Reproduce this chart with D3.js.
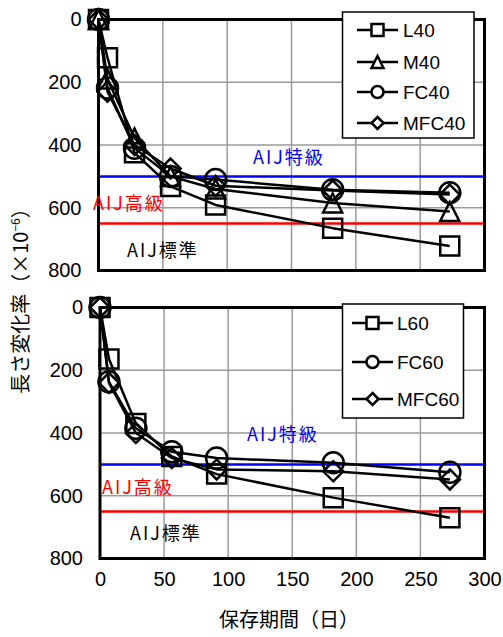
<!DOCTYPE html>
<html>
<head>
<meta charset="utf-8">
<script src="https://cdn.jsdelivr.net/npm/d3@7"></script>
<style>
  html, body { margin: 0; padding: 0; background: #fff; }
  svg { display: block; }
</style>
</head>
<body>
<svg id="chart" width="503" height="637"></svg>
<script>
// Storage age (days) at each measurement
const days = [0, 7, 28, 56, 91, 182, 273];

// Drying shrinkage (x10^-6), 40 series
const seriesNames40 = ["L40", "M40", "FC40", "MFC40"];
const L40   = [0, 122, 425, 532, 591, 665, 722];
const M40   = [0, 190, 378, 500, 540, 585, 612];
const FC40  = [0, 218, 410, 500, 510, 543, 552];
const MFC40 = [0, 230, 400, 475, 530, 545, 558];

// Drying shrinkage (x10^-6), 60 series
const seriesNames60 = ["L60", "FC60", "MFC60"];
const L60   = [0, 164, 370, 475, 531, 606, 670];
const FC60  = [0, 237, 385, 460, 480, 495, 525];
const MFC60 = [0, 240, 400, 480, 516, 522, 548];

// Marker shape for each series
const markerOf = { L40: "square", M40: "triangle", FC40: "circle", MFC40: "diamond",
                   L60: "square", FC60: "circle", MFC60: "diamond" };

// Axis ticks
const xTicks = [0, 50, 100, 150, 200, 250, 300];
const yTicks = [0, 200, 400, 600, 800];

// AIJ reference levels (x10^-6)
const refLevels = [
  { name: "AIJ特級", value: 500, color: "#0000ff" },
  { name: "AIJ高級", value: 650, color: "#ff0000" }
];
const standardLabel = "AIJ標準";

const svg = d3.select("#chart");
const numFont = "'Liberation Sans', Arial, sans-serif";
const jpFont = "'Noto Sans CJK JP', sans-serif";

function markerPath(shape, s) {
  const h = s / 2;
  if (shape === "square") return `M${-h},${-h}H${h}V${h}H${-h}Z`;
  if (shape === "diamond") return `M0,${-h}L${h},0L0,${h}L${-h},0Z`;
  if (shape === "triangle") return `M0,${-h}L${h},${h}L${-h},${h}Z`;
  // circle
  return `M${h},0A${h},${h},0,1,1,${-h},0A${h},${h},0,1,1,${h},0Z`;
}

function drawPanel(opt) {
  const x = d3.scaleLinear().domain([0, 300]).range([opt.left, opt.right]);
  const y = d3.scaleLinear().domain([0, 800]).range([opt.top, opt.bottom]);
  const g = svg.append("g");

  // grid
  g.append("g").selectAll("line.vg").data(xTicks.slice(1, -1)).join("line")
    .attr("x1", d => x(d)).attr("x2", d => x(d))
    .attr("y1", opt.top).attr("y2", opt.bottom)
    .attr("stroke", "#9a9a9a").attr("stroke-width", 1.5);
  g.append("g").selectAll("line.hg").data(yTicks.slice(1, -1)).join("line")
    .attr("x1", opt.left).attr("x2", opt.right)
    .attr("y1", d => y(d)).attr("y2", d => y(d))
    .attr("stroke", "#9a9a9a").attr("stroke-width", 1.5);

  // reference levels
  g.append("g").selectAll("line").data(refLevels).join("line")
    .attr("x1", opt.left).attr("x2", opt.right)
    .attr("y1", d => y(d.value)).attr("y2", d => y(d.value))
    .attr("stroke", d => d.color).attr("stroke-width", 2.5);

  // y axis labels
  const ya = d3.axisLeft(y).tickValues(yTicks).tickSize(0).tickPadding(17);
  const yg = g.append("g").attr("transform", `translate(${opt.left},0)`).call(ya);
  yg.select(".domain").remove();
  yg.selectAll("text").attr("font-family", numFont).attr("font-size", 20).attr("fill", "#000");

  if (opt.xLabels) {
    const xa = d3.axisBottom(x).tickValues(xTicks).tickSize(0).tickPadding(13);
    const xg = g.append("g").attr("transform", `translate(0,${opt.bottom})`).call(xa);
    xg.select(".domain").remove();
    xg.selectAll("text").attr("font-family", numFont).attr("font-size", 20).attr("fill", "#000");
  }

  // frame
  g.append("rect").attr("x", opt.left).attr("y", opt.top)
    .attr("width", opt.right - opt.left).attr("height", opt.bottom - opt.top)
    .attr("fill", "none").attr("stroke", "#000").attr("stroke-width", 3);

  // series
  const line = d3.line().x((d, i) => x(days[i])).y(d => y(d));
  opt.series.forEach(s => {
    g.append("path").datum(s.values).attr("d", line)
      .attr("fill", "none").attr("stroke", "#000").attr("stroke-width", 2.5)
      .attr("stroke-linejoin", "round");
  });
  opt.series.forEach(s => {
    const size = s.shape === "circle" ? 21 : (s.shape === "diamond" ? 20 : 19);
    g.append("g").selectAll("path").data(s.values).join("path")
      .attr("transform", (d, i) => `translate(${x(days[i])},${y(d)})`)
      .attr("d", markerPath(s.shape, size))
      .attr("fill", "none").attr("stroke", "#000").attr("stroke-width", 2.5);
  });

  // level labels
  opt.labels.forEach(l => {
    g.append("text").attr("x", l.x).attr("y", l.y).text(l.text)
      .attr("font-family", jpFont).attr("font-size", 18).attr("letter-spacing", 2)
      .attr("fill", l.color);
  });

  // legend
  const lg = g.append("g");
  lg.append("rect").attr("x", opt.legend.x).attr("y", opt.legend.y)
    .attr("width", opt.legend.w).attr("height", opt.legend.h)
    .attr("fill", "#fff").attr("stroke", "#000").attr("stroke-width", 1.5);
  opt.series.forEach((s, i) => {
    const cy = opt.legend.rows[i];
    const lx = opt.legend.lineX;
    lg.append("line").attr("x1", lx[0]).attr("x2", lx[1]).attr("y1", cy).attr("y2", cy)
      .attr("stroke", "#000").attr("stroke-width", 2.5);
    lg.append("path").attr("transform", `translate(${(lx[0] + lx[1]) / 2},${cy})`)
      .attr("d", markerPath(s.shape, 12))
      .attr("fill", "#fff").attr("stroke", "#000").attr("stroke-width", 2.5);
    lg.append("text").attr("x", opt.legend.textX).attr("y", cy + 7).text(s.name)
      .attr("font-family", numFont).attr("font-size", 19).attr("fill", "#000");
  });
}

const top40 = [L40, M40, FC40, MFC40].map((v, i) => ({ name: seriesNames40[i], values: v, shape: markerOf[seriesNames40[i]] }));
const bot60 = [L60, FC60, MFC60].map((v, i) => ({ name: seriesNames60[i], values: v, shape: markerOf[seriesNames60[i]] }));

drawPanel({
  left: 98.5, right: 484.5, top: 19.5, bottom: 270.5, xLabels: false,
  series: top40,
  labels: [
    { text: refLevels[0].name, x: 253, y: 164, color: refLevels[0].color },
    { text: refLevels[1].name, x: 93, y: 210, color: refLevels[1].color },
    { text: standardLabel, x: 127, y: 257, color: "#000" }
  ],
  legend: { x: 342.5, y: 12, w: 131.5, h: 126, rows: [30, 62, 92, 123], lineX: [357, 398], textX: 403 }
});

drawPanel({
  left: 100, right: 484.5, top: 307.5, bottom: 558.5, xLabels: true,
  series: bot60,
  labels: [
    { text: refLevels[0].name, x: 247, y: 441, color: refLevels[0].color },
    { text: refLevels[1].name, x: 102, y: 494, color: refLevels[1].color },
    { text: standardLabel, x: 130, y: 540, color: "#000" }
  ],
  legend: { x: 342.5, y: 304, w: 121, h: 114, rows: [323, 362, 399], lineX: [352, 393], textX: 397 }
});

// axis titles
const yTitle = svg.append("text")
  .attr("transform", "translate(28,296) rotate(-90)")
  .attr("text-anchor", "middle")
  .attr("font-family", jpFont).attr("font-size", 20).attr("fill", "#000");
yTitle.append("tspan").text("長さ変化率（×10");
yTitle.append("tspan").text("−6").attr("font-size", 12).attr("dy", -8);
yTitle.append("tspan").text("）").attr("dy", 8);

svg.append("text").attr("x", 289).attr("y", 627)
  .attr("text-anchor", "middle")
  .attr("font-family", jpFont).attr("font-size", 20).attr("fill", "#000")
  .text("保存期間（日）");
</script>
</body>
</html>
